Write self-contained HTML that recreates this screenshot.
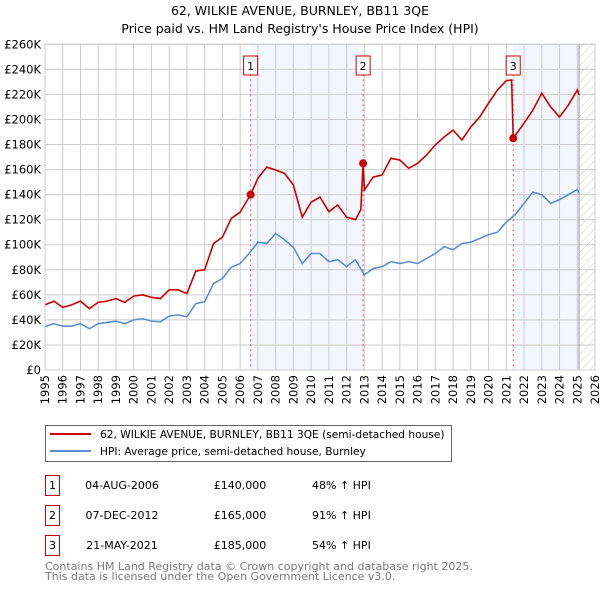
<!DOCTYPE html>
<html><head><meta charset="utf-8"><style>
body{margin:0;background:#fff;font-family:"DejaVu Sans","Liberation Sans",sans-serif;}
svg text{font-family:"DejaVu Sans","Liberation Sans",sans-serif;}
</style></head><body>
<svg id="chart" width="600" height="590" xmlns="http://www.w3.org/2000/svg">
<text x="300" y="15" text-anchor="middle" font-size="12.5">62, WILKIE AVENUE, BURNLEY, BB11 3QE</text>
<text x="300" y="33" text-anchor="middle" font-size="12.5">Price paid vs. HM Land Registry's House Price Index (HPI)</text>
<defs><pattern id="hatch" width="6" height="6" patternUnits="userSpaceOnUse" patternTransform="rotate(45)"><line x1="0" y1="0" x2="0" y2="6" stroke="#ccc" stroke-width="1"/></pattern></defs>
<g id="bg"></g><g id="grid"></g><g id="marks"></g><g id="axes"></g>
<g>
<rect x="45.5" y="425.5" width="406" height="36" fill="#fff" stroke="#666"/>
<line x1="50" y1="434" x2="91" y2="434" stroke="#cc0000" stroke-width="2"/>
<text x="100" y="438" font-size="10.6">62, WILKIE AVENUE, BURNLEY, BB11 3QE (semi-detached house)</text>
<line x1="50" y1="451" x2="91" y2="451" stroke="#5b8fd0" stroke-width="2"/>
<text x="100" y="455" font-size="10.6">HPI: Average price, semi-detached house, Burnley</text>
</g>
<g id="table" font-size="11"></g>
<text x="45" y="570" font-size="11" fill="#777">Contains HM Land Registry data © Crown copyright and database right 2025.</text>
<text x="45" y="580" font-size="11" fill="#777">This data is licensed under the Open Government Licence v3.0.</text>
</svg>
<script>
const hpiYears=[1995,1995.5,1996,1996.5,1997,1997.5,1998,1998.5,1999,1999.5,2000,2000.5,2001,2001.5,2002,2002.5,2003,2003.5,2004,2004.5,2005,2005.5,2006,2006.5,2007,2007.5,2008,2008.5,2009,2009.5,2010,2010.5,2011,2011.5,2012,2012.5,2013,2013.5,2014,2014.5,2015,2015.5,2016,2016.5,2017,2017.5,2018,2018.5,2019,2019.5,2020,2020.5,2021,2021.5,2022,2022.5,2023,2023.5,2024,2024.5,2025,2025.1];
const hpiValues=[34.6,37,35,35,37,33,37,38,39,37,40,41,39,38.5,43,44,42.5,53,54.5,69,73,82,85,93,102,101,109,104,98,85,93,93,86.5,88,82.5,88,76,81,82.5,86.5,85,86.5,85,89,93,98.5,96,101,102,105,108,110,118,124,133,142,140,133,136,140,144,141.5];
const priceYears=[1995,1995.5,1996,1996.5,1997,1997.5,1998,1998.5,1999,1999.5,2000,2000.5,2001,2001.5,2002,2002.5,2003,2003.5,2004,2004.5,2005,2005.5,2006,2006.59,2007,2007.5,2008,2008.5,2009,2009.5,2010,2010.5,2011,2011.5,2012,2012.5,2012.8,2012.93,2013,2013.5,2014,2014.5,2015,2015.5,2016,2016.5,2017,2017.5,2018,2018.5,2019,2019.5,2020,2020.5,2021,2021.3,2021.39,2022,2022.5,2023,2023.5,2024,2024.5,2025,2025.1];
const priceValues=[52,55,50,52,55,49,54,55,57,54,59,60,58,57,64,64,61,79,80,101,106,121,126,140,153,162,159.7,157,147.7,122,134,138,126.4,131.7,122,120,128,165,143.7,154,155.7,169,167.6,161,165,171.6,179.6,186,191.5,183.6,194,202,213,223.5,231,231.5,185,197,207.5,221,210,202,211.5,223.5,219.5];
const saleLabels=["1","2","3"];
const saleYears=[2006.59,2012.93,2021.39];
const salePrices=[140,165,185];
const saleDates=["04-AUG-2006","07-DEC-2012","21-MAY-2021"];
const salePriceText=["£140,000","£165,000","£185,000"];
const saleHpiText=["48% ↑ HPI","91% ↑ HPI","54% ↑ HPI"];
const yTicks=[0,20,40,60,80,100,120,140,160,180,200,220,240,260];
const xTicks=[1995,1996,1997,1998,1999,2000,2001,2002,2003,2004,2005,2006,2007,2008,2009,2010,2011,2012,2013,2014,2015,2016,2017,2018,2019,2020,2021,2022,2023,2024,2025,2026];
const X0=45,X1=595,Y0=370,Y1=44.3;
const xs=y=>X0+(y-1995)/(2026-1995)*(X1-X0);
const ys=v=>Y0-(v/260)*(Y0-Y1);
const NS="http://www.w3.org/2000/svg";
function mk(parent,tag,attrs){const e=document.createElementNS(NS,tag);for(const k in attrs)e.setAttribute(k,attrs[k]);document.getElementById(parent).appendChild(e);return e;}
const dataEnd=2025.1;
let r;
r=mk('bg','rect',{x:xs(saleYears[0]),y:Y1,width:xs(saleYears[1])-xs(saleYears[0]),height:Y0-Y1,fill:'#eef3fc',opacity:0.7});

r=mk('bg','rect',{x:xs(saleYears[2]),y:Y1,width:xs(dataEnd)-xs(saleYears[2]),height:Y0-Y1,fill:'#eef3fc',opacity:0.7});

r=mk('bg','rect',{x:xs(dataEnd),y:Y1,width:X1-xs(dataEnd),height:Y0-Y1,fill:'url(#hatch)'});

yTicks.forEach(v=>{const l=mk('grid','line',{x1:X0,x2:X1,y1:ys(v),y2:ys(v),stroke:'#ccc'});

const t=mk('axes','text',{x:X0-4,y:ys(v)+4,'text-anchor':'end','font-size':'11.5'});t.textContent=v===0?'£0':'£'+v+'K';
});
xTicks.forEach(y=>{const l=mk('grid','line',{x1:xs(y),x2:xs(y),y1:Y1,y2:Y0,stroke:'#ccc'});

const t=mk('axes','text',{transform:`translate(${xs(y)+4},${Y0+5}) rotate(-90)`,'text-anchor':'end','font-size':'11.5'});t.textContent=y;
});
r=mk('grid','line',{x1:xs(dataEnd),x2:xs(dataEnd),y1:Y1,y2:Y0,stroke:'#999'});

r=mk('axes','rect',{x:X0,y:Y1,width:X1-X0,height:Y0-Y1,fill:'none',stroke:'#ccc'});

saleYears.forEach((y,i)=>{const l=mk('marks','line',{x1:xs(y),x2:xs(y),y1:Y1+20,y2:Y0,stroke:'#e06060','stroke-dasharray':'2,3'});
});
const hp=mk('marks','polyline',{points:hpiYears.map((y,i)=>xs(y)+','+ys(hpiValues[i])).join(' '),fill:'none',stroke:'#5b8fd0','stroke-width':1.6});

const pp=mk('marks','polyline',{points:priceYears.map((y,i)=>xs(y)+','+ys(priceValues[i])).join(' '),fill:'none',stroke:'#cc0000','stroke-width':1.6});

saleYears.forEach((y,i)=>{const c=mk('marks','circle',{cx:xs(y),cy:ys(salePrices[i]),r:4,fill:'#cc0000'});

const b=mk('marks','rect',{x:xs(y)-7,y:56,width:14,height:19,fill:'#fff',stroke:'#cc0000'});

const t=mk('marks','text',{x:xs(y),y:70,'text-anchor':'middle','font-size':'11'});t.textContent=saleLabels[i];
});
saleYears.forEach((y,i)=>{const cy=485+i*30;
const b=mk('table','rect',{x:45.5,y:cy-9.5,width:14,height:20,fill:'none',stroke:'#cc0000'});

const n=mk('table','text',{x:52.5,y:cy+4,'text-anchor':'middle'});n.textContent=saleLabels[i];

const d=mk('table','text',{x:122,y:cy+4,'text-anchor':'middle'});d.textContent=saleDates[i];

const p=mk('table','text',{x:240,y:cy+4,'text-anchor':'middle'});p.textContent=salePriceText[i];

const h=mk('table','text',{x:312,y:cy+4});h.textContent=saleHpiText[i];
});
</script>
</body></html>
